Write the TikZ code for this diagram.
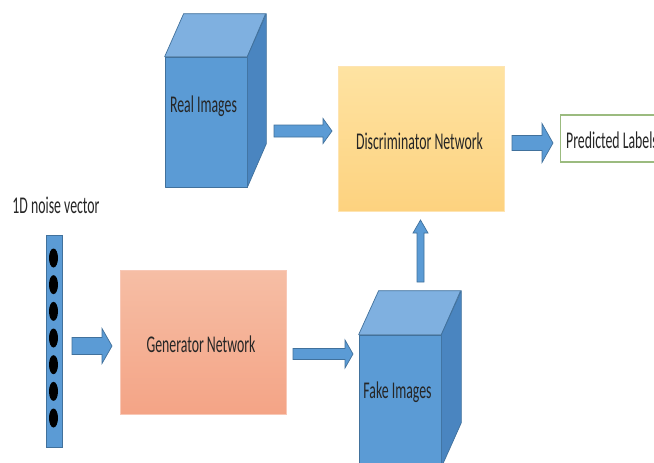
\documentclass[tikz,border=0pt]{standalone}
\usepackage{fontspec}
\newfontfamily\calfont[FakeStretch=0.575]{Carlito}
\usetikzlibrary{calc,shapes.geometric}
\definecolor{cubefront}{HTML}{5B9BD5}
\definecolor{cubetop}{HTML}{7FB0E0}
\definecolor{cubeside}{HTML}{4A85C0}
\definecolor{blueline}{HTML}{41719C}
\definecolor{txt}{HTML}{262626}
\definecolor{discA}{HTML}{FEE3A2}
\definecolor{discB}{HTML}{FDD27F}
\definecolor{genA}{HTML}{F6BEA5}
\definecolor{genB}{HTML}{F4A486}
\definecolor{predline}{HTML}{9BBB7F}
\newcommand{\hblockarrow}[5]{%
  \draw[blockarrow] ($(#1)+(0,-#3)$) -- ($(#2)+(-#5,-#3)$) -- ($(#2)+(-#5,-#4)$) -- (#2)
    -- ($(#2)+(-#5,#4)$) -- ($(#2)+(-#5,#3)$) -- ($(#1)+(0,#3)$) -- cycle;}
\newcommand{\vblockarrow}[5]{%
  \draw[blockarrow] ($(#1)+(-#3,0)$) -- ($(#2)+(-#3,#5)$) -- ($(#2)+(-#4,#5)$) -- (#2)
    -- ($(#2)+(#4,#5)$) -- ($(#2)+(#3,#5)$) -- ($(#1)+(#3,0)$) -- cycle;}
\tikzset{
  lbl/.style={font=\calfont\fontsize{24}{28}\selectfont, text=txt, inner sep=0pt, anchor=base},
  face/.style={draw=blueline, line width=0.7pt, line join=round},
  frontface/.style={face, fill=cubefront, rectangle, inner sep=0pt, minimum width=82pt, minimum height=130pt},
  netbox/.style={rectangle, inner sep=0pt, minimum width=166pt, minimum height=145pt, line width=0.6pt},
  blockarrow/.style={fill=cubefront, draw=blueline, line width=0.7pt, line join=miter},
  noisedot/.style={ellipse, fill=black, minimum width=9pt, minimum height=19pt, inner sep=0pt}
}
\begin{document}
\begin{tikzpicture}[x=1pt,y=-1pt]
\path[use as bounding box, clip] (0,0) rectangle (654,463);
\fill[white] (0,0) rectangle (654,463);

% Real images cube
\node[frontface] (realf) at (206,122) {};
\draw[face, fill=cubetop] (realf.north west) -- ++(19,-43) -- ++(82,0) -- (realf.north east) -- cycle;
\draw[face, fill=cubeside] (realf.north east) -- ++(19,-43) -- ++(0,130) -- (realf.south east) -- cycle;
\node[lbl] (realt) at (203.5,112) {Real Images};

% Discriminator
\node[netbox, top color=discA, bottom color=discB, draw=discB!60!white] (disc) at (421,138.5) {};
\node[lbl] (disct) at (419.5,149) {Discriminator Network};

% Predicted labels
\node[rectangle, draw=predline, line width=1.1pt, fill=white, minimum width=110pt, minimum height=47pt, anchor=west] (pred) at (560,138.5) {};
\node[lbl, anchor=base west] (predt) at (566,148) {Predicted Labels};

% Noise vector
\node[lbl] (noiset) at (56,213) {1D noise vector};
\node[rectangle, fill=cubefront, draw=blueline, line width=0.7pt, minimum width=16pt, minimum height=212pt, inner sep=0pt] (noise) at (54,341) {};
\foreach \i in {0,...,6} {
  \node[noisedot] (dot\i) at (53.5,{258+26.67*\i}) {};
}

% Generator
\node[netbox, top color=genA, bottom color=genB, draw=genB!60!white, minimum height=144pt] (gen) at (203,342) {};
\node[lbl] (gent) at (201,352) {Generator Network};

% Fake images cube
\node[frontface, minimum height=132pt] (fakef) at (400,401) {};
\draw[face, fill=cubetop] (fakef.north west) -- ++(20,-44) -- ++(82,0) -- (fakef.north east) -- cycle;
\draw[face, fill=cubeside] (fakef.north east) -- ++(20,-44) -- ++(0,132) -- (fakef.south east) -- cycle;
\node[lbl] (faket) at (397.5,398) {Fake Images};

% Arrows
\coordinate (a1s) at (274,131);   \coordinate (a1e) at (332,131);
\coordinate (a2s) at (512,143);   \coordinate (a2e) at (553,143);
\coordinate (a3s) at (72,346);    \coordinate (a3e) at (112,346);
\coordinate (a4s) at (293,354);   \coordinate (a4e) at (353,354);
\coordinate (a5s) at (420.5,282); \coordinate (a5e) at (420.5,220);
\hblockarrow{a1s}{a1e}{6}{12.5}{9}
\hblockarrow{a2s}{a2e}{7.5}{19.5}{11}
\hblockarrow{a3s}{a3e}{8.5}{17.5}{10}
\hblockarrow{a4s}{a4e}{5.5}{14}{8}
\vblockarrow{a5s}{a5e}{3.5}{7.5}{13}
\end{tikzpicture}
\end{document}
